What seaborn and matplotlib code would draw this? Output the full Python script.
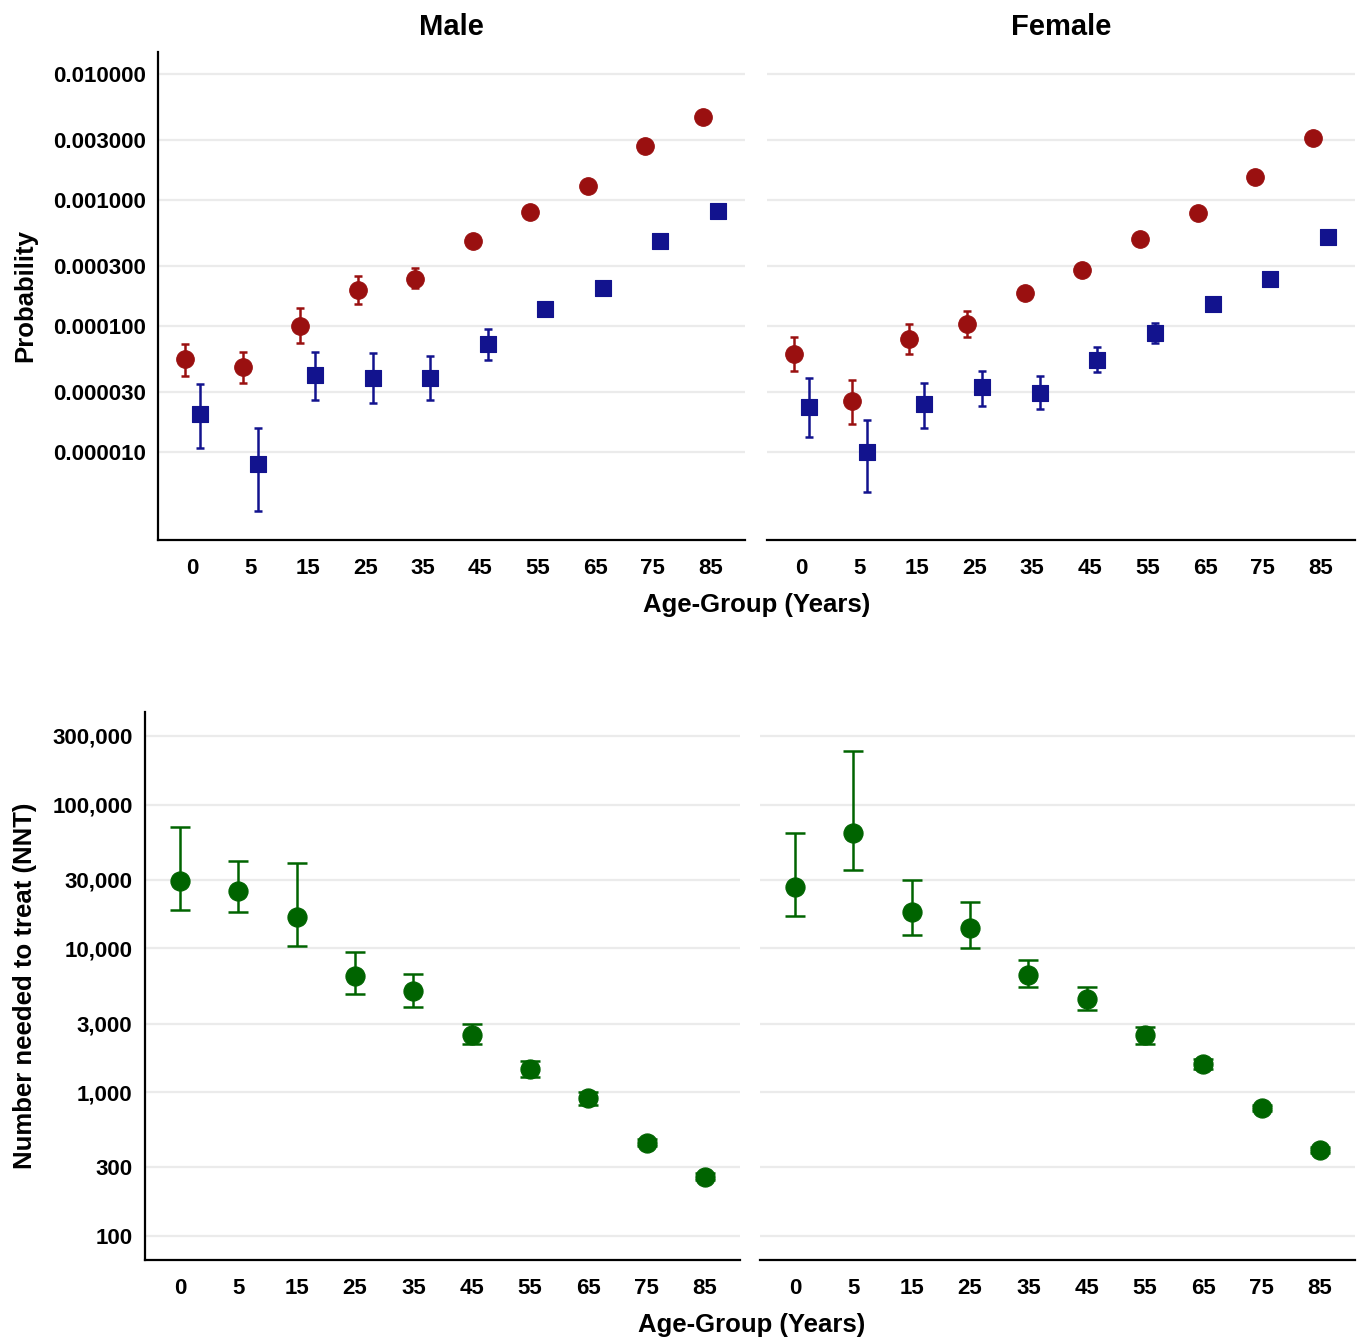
import numpy as np
import pandas as pd
import matplotlib
matplotlib.use("Agg")
import matplotlib.pyplot as plt
import seaborn as sns
from matplotlib.ticker import FixedLocator, FixedFormatter, NullLocator

age_groups = ["0", "5", "15", "25", "35", "45", "55", "65", "75", "85"]

# top row: probabilities (red circles / blue squares), estimate + interval
male_red = [5.5e-5, 4.7e-5, 1.0e-4, 1.93e-4, 2.36e-4, 4.7e-4, 8.0e-4, 1.29e-3, 2.68e-3, 4.56e-3]
male_red_lo = [4.0e-5, 3.5e-5, 7.3e-5, 1.5e-4, 2.0e-4, 4.3e-4, 7.5e-4, 1.22e-3, 2.55e-3, 4.35e-3]
male_red_hi = [7.2e-5, 6.2e-5, 1.39e-4, 2.5e-4, 2.88e-4, 5.1e-4, 8.5e-4, 1.36e-3, 2.82e-3, 4.8e-3]
male_blue = [2.0e-5, 8.0e-6, 4.1e-5, 3.9e-5, 3.85e-5, 7.2e-5, 1.36e-4, 2.0e-4, 4.7e-4, 8.2e-4]
male_blue_lo = [1.08e-5, 3.4e-6, 2.6e-5, 2.45e-5, 2.6e-5, 5.4e-5, 1.22e-4, 1.85e-4, 4.4e-4, 7.7e-4]
male_blue_hi = [3.47e-5, 1.55e-5, 6.2e-5, 6.1e-5, 5.8e-5, 9.5e-5, 1.5e-4, 2.15e-4, 5.0e-4, 8.7e-4]

female_red = [6.0e-5, 2.54e-5, 7.9e-5, 1.04e-4, 1.83e-4, 2.78e-4, 4.9e-4, 7.9e-4, 1.52e-3, 3.1e-3]
female_red_lo = [4.4e-5, 1.67e-5, 6.0e-5, 8.2e-5, 1.68e-4, 2.6e-4, 4.6e-4, 7.5e-4, 1.45e-3, 2.95e-3]
female_red_hi = [8.2e-5, 3.7e-5, 1.04e-4, 1.32e-4, 2.0e-4, 2.98e-4, 5.2e-4, 8.3e-4, 1.6e-3, 3.25e-3]
female_blue = [2.28e-5, 1.0e-5, 2.4e-5, 3.28e-5, 2.94e-5, 5.37e-5, 8.8e-5, 1.5e-4, 2.36e-4, 5.1e-4]
female_blue_lo = [1.32e-5, 4.8e-6, 1.55e-5, 2.3e-5, 2.19e-5, 4.3e-5, 7.3e-5, 1.4e-4, 2.25e-4, 4.85e-4]
female_blue_hi = [3.86e-5, 1.8e-5, 3.5e-5, 4.4e-5, 4.0e-5, 6.8e-5, 1.06e-4, 1.6e-4, 2.48e-4, 5.35e-4]

# bottom row: number needed to treat
male_nnt = [29500, 25200, 16600, 6440, 5070, 2480, 1440, 913, 444, 258]
male_nnt_lo = [18600, 17900, 10300, 4790, 3930, 2150, 1280, 815, 420, 245]
male_nnt_hi = [70000, 40800, 39000, 9500, 6660, 2980, 1650, 1000, 470, 272]
female_nnt = [26600, 63800, 17900, 13800, 6550, 4450, 2500, 1570, 778, 393]
female_nnt_lo = [16900, 34900, 12400, 10100, 5420, 3740, 2150, 1450, 740, 375]
female_nnt_hi = [63800, 234000, 29800, 21000, 8260, 5370, 2850, 1700, 820, 412]

prob_ticks = [1e-5, 3e-5, 1e-4, 3e-4, 1e-3, 3e-3, 1e-2]
prob_labels = ["0.000010", "0.000030", "0.000100", "0.000300", "0.001000", "0.003000", "0.010000"]
nnt_ticks = [100, 300, 1000, 3000, 10000, 30000, 100000, 300000]
nnt_labels = ["100", "300", "1,000", "3,000", "10,000", "30,000", "100,000", "300,000"]

RED = "#9A1010"
BLUE = "#12138E"
GREEN = "#006400"

sns.set_style("white")
plt.rcParams["font.family"] = ["Liberation Sans", "DejaVu Sans"]
plt.rcParams["font.weight"] = "bold"
plt.rcParams["text.color"] = "black"
plt.rcParams["xtick.color"] = "black"
plt.rcParams["ytick.color"] = "black"
plt.rcParams["axes.labelcolor"] = "black"

W, H = 1361, 1342
fig = plt.figure(figsize=(W / 100, H / 100), dpi=100)


def box(l, t, r, b):
    return [l / W, 1 - b / H, (r - l) / W, (b - t) / H]


def style_axis(ax, ticks, labels, ylim, show_y):
    ax.set_yscale("log")
    ax.set_ylim(*ylim)
    ax.set_xlim(-0.6, 9.6)
    ax.yaxis.set_major_locator(FixedLocator(ticks))
    ax.yaxis.set_major_formatter(FixedFormatter(labels))
    ax.yaxis.set_minor_locator(NullLocator())
    ax.set_xticks(range(len(age_groups)))
    ax.set_xticklabels(age_groups)
    ax.yaxis.grid(True, color="#EBEBEB", lw=1.6)
    ax.set_axisbelow(True)
    for s in ["top", "right"]:
        ax.spines[s].set_visible(False)
    ax.spines["bottom"].set_color("black")
    ax.spines["bottom"].set_linewidth(1.6)
    ax.tick_params(axis="x", length=5, width=1.2, colors="black", labelsize=16, pad=8)
    if show_y:
        ax.spines["left"].set_color("black")
        ax.spines["left"].set_linewidth(1.6)
        ax.tick_params(axis="y", length=5, width=1.2, colors="black", labelsize=16, pad=4)
    else:
        ax.spines["left"].set_visible(False)
        ax.tick_params(axis="y", length=0, labelleft=False)
    for lab in ax.get_xticklabels() + ax.get_yticklabels():
        lab.set_fontweight("bold")
    ax.set_xlabel("")
    ax.set_ylabel("")


def draw_series(ax, est, lo, hi, shift, color, marker, size, capsize):
    x = np.arange(len(age_groups)) + shift
    est = np.array(est)
    err = [est - np.array(lo), np.array(hi) - est]
    ax.errorbar(x, est, yerr=err, fmt="none", ecolor=color, elinewidth=1.8,
                capsize=capsize, capthick=1.8, zorder=2)
    df = pd.DataFrame({"x": x, "y": est})
    sns.scatterplot(data=df, x="x", y="y", ax=ax, color=color, marker=marker,
                    s=size, edgecolor=color, linewidth=0.8, zorder=3, legend=False)


prob_lim = (2.0e-6, 0.015)
nnt_lim = (68, 440000)

ax1 = fig.add_axes(box(158, 52, 745, 540))
ax1.set_yscale("log")
draw_series(ax1, male_red, male_red_lo, male_red_hi, -0.13, RED, "o", 160, 3)
draw_series(ax1, male_blue, male_blue_lo, male_blue_hi, 0.13, BLUE, "s", 140, 3)
style_axis(ax1, prob_ticks, prob_labels, prob_lim, True)

ax2 = fig.add_axes(box(767, 52, 1355, 540))
ax2.set_yscale("log")
draw_series(ax2, female_red, female_red_lo, female_red_hi, -0.13, RED, "o", 160, 3)
draw_series(ax2, female_blue, female_blue_lo, female_blue_hi, 0.13, BLUE, "s", 140, 3)
style_axis(ax2, prob_ticks, prob_labels, prob_lim, False)

ax3 = fig.add_axes(box(145, 712, 740, 1260))
ax3.set_yscale("log")
draw_series(ax3, male_nnt, male_nnt_lo, male_nnt_hi, 0.0, GREEN, "o", 190, 7)
style_axis(ax3, nnt_ticks, nnt_labels, nnt_lim, True)

ax4 = fig.add_axes(box(760, 712, 1355, 1260))
ax4.set_yscale("log")
draw_series(ax4, female_nnt, female_nnt_lo, female_nnt_hi, 0.0, GREEN, "o", 190, 7)
style_axis(ax4, nnt_ticks, nnt_labels, nnt_lim, False)

ax1.set_title("Male", fontsize=21, fontweight="bold", pad=12, color="black")
ax2.set_title("Female", fontsize=21, fontweight="bold", pad=12, color="black")

fig.text(757 / W, 1 - 605 / H, "Age-Group (Years)", ha="center", va="center",
         fontsize=18.5, fontweight="bold")
fig.text(752 / W, 1 - 1325 / H, "Age-Group (Years)", ha="center", va="center",
         fontsize=18.5, fontweight="bold")
fig.text(25 / W, 1 - 296 / H, "Probability", rotation=90, ha="center", va="center",
         fontsize=18.5, fontweight="bold")
fig.text(25 / W, 1 - 986 / H, "Number needed to treat (NNT)", rotation=90, ha="center",
         va="center", fontsize=18.5, fontweight="bold")

fig.savefig("out.png", dpi=100)
